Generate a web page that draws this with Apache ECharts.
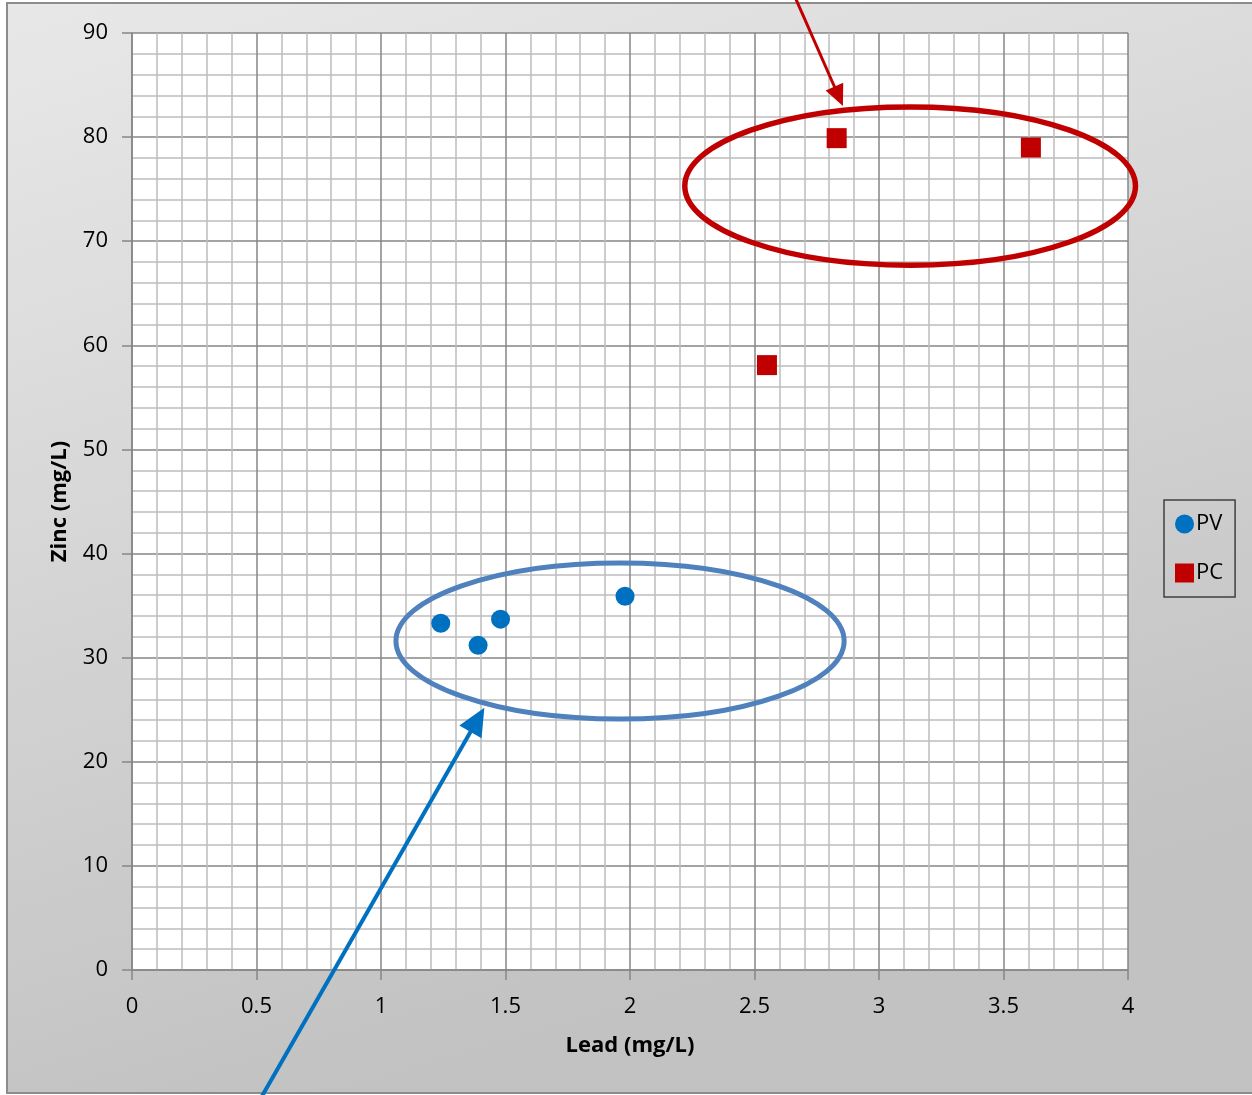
<!DOCTYPE html>
<html>
<head>
<meta charset="utf-8">
<title>Zinc vs Lead</title>
<script src="https://cdn.jsdelivr.net/npm/echarts@6/dist/echarts.min.js"></script>
<style>
  html, body { margin: 0; padding: 0; background: #ffffff; }
  #chart { width: 1252px; height: 1095px; }
</style>
</head>
<body>
<div id="chart"></div>
<script>
// Lead (x) and zinc (y) concentrations, mg/L
const leadPV = [1.24, 1.39, 1.48, 1.98];
const zincPV = [33.3, 31.2, 33.7, 35.9];
const leadPC = [2.83, 3.61, 2.55];
const zincPC = [79.9, 79.0, 58.1];

const seriesNames = ['PV', 'PC'];
const xTitle = 'Lead (mg/L)';
const yTitle = 'Zinc (mg/L)';

// Cluster rings (centre and half-axes in data units) and their pointer arrows
const rings = [
  { cx: 3.125, cy: 75.3, rx: 0.905, ry: 7.6, color: '#c00000', width: 5.5 },
  { cx: 1.96, cy: 31.6, rx: 0.9, ry: 7.5, color: '#4f81bd', width: 5 }
];
const pointers = [
  { from: [2.66, 93.6], to: [2.855, 83.0], color: '#c00000', width: 3 },
  { from: [0.52, -12.2], to: [1.415, 25.2], color: '#0070c0', width: 4 }
];

const FONT = '"Open Sans", sans-serif';

const toPairs = (xs, ys) => xs.map((x, i) => [x, ys[i]]);

const chart = echarts.init(document.getElementById('chart'));

const option = {
  animation: false,
  backgroundColor: '#ffffff',
  textStyle: { fontFamily: FONT },
  grid: {
    left: 132, right: 124, top: 33, bottom: 125,
    show: true, backgroundColor: '#ffffff', borderWidth: 0
  },
  legend: {
    orient: 'vertical',
    left: 1164, top: 500,
    padding: [12, 12, 12, 11],
    itemGap: 25,
    itemWidth: 19, itemHeight: 19,
    borderColor: '#404040', borderWidth: 1.5,
    textStyle: { fontSize: 22, lineHeight: 24, color: '#000', fontFamily: FONT, padding: [0, 0, 0, -3] },
    data: [
      { name: seriesNames[0], icon: 'circle' },
      { name: seriesNames[1], icon: 'rect' }
    ]
  },
  xAxis: {
    type: 'value', min: 0, max: 4, interval: 0.5,
    name: xTitle, nameLocation: 'middle', nameGap: 65,
    nameTextStyle: { fontSize: 22, fontWeight: 'bold', color: '#000', fontFamily: FONT },
    axisLine: { onZero: false, lineStyle: { color: '#868686', width: 1.5 } },
    axisTick: { show: true, length: 10, lineStyle: { color: '#868686', width: 1.5 } },
    axisLabel: { fontSize: 22, color: '#000', margin: 26, fontFamily: FONT },
    splitLine: { show: true, lineStyle: { color: '#868686', width: 1.5 } },
    minorTick: { show: false, splitNumber: 5 },
    minorSplitLine: { show: true, lineStyle: { color: '#bdbdbd', width: 1.5 } }
  },
  yAxis: {
    type: 'value', min: 0, max: 90, interval: 10,
    name: yTitle, nameLocation: 'middle', nameGap: 61, nameRotate: 90,
    nameTextStyle: { fontSize: 22, fontWeight: 'bold', color: '#000', fontFamily: FONT },
    axisLine: { show: true, onZero: false, lineStyle: { color: '#868686', width: 1.5 } },
    axisTick: { show: true, length: 10, lineStyle: { color: '#868686', width: 1.5 } },
    axisLabel: { fontSize: 22, color: '#000', margin: 24, fontFamily: FONT },
    splitLine: { show: true, lineStyle: { color: '#868686', width: 1.5 } },
    minorTick: { show: false, splitNumber: 5 },
    minorSplitLine: { show: true, lineStyle: { color: '#bdbdbd', width: 1.5 } }
  },
  series: [
    {
      name: seriesNames[1], type: 'scatter', z: 3,
      symbol: 'rect', symbolSize: 20,
      itemStyle: { color: '#c00000', opacity: 1 },
      data: toPairs(leadPC, zincPC)
    },
    {
      name: seriesNames[0], type: 'scatter', z: 4,
      symbol: 'circle', symbolSize: 19,
      itemStyle: { color: '#0070c0', opacity: 1 },
      data: toPairs(leadPV, zincPV)
    }
  ]
};

chart.setOption(option);

// Chart-area panel behind everything, then rings and arrows over the plot
function drawOverlays() {
  const px = (p) => chart.convertToPixel({ gridIndex: 0 }, p);
  const elements = [{
    type: 'rect', z: -10, silent: true,
    shape: { x: 7, y: 3, width: 1270, height: 1090 },
    style: {
      fill: new echarts.graphic.LinearGradient(0, 0, 0.25, 1, [
        { offset: 0, color: '#e8e8e8' },
        { offset: 1, color: '#c2c2c2' }
      ]),
      stroke: '#8c8c8c', lineWidth: 2
    }
  }];

  rings.forEach((r) => {
    const c = px([r.cx, r.cy]);
    const e = px([r.cx + r.rx, r.cy - r.ry]);
    elements.push({
      type: 'ellipse', z: 20, silent: true,
      shape: { cx: c[0], cy: c[1], rx: e[0] - c[0], ry: e[1] - c[1] },
      style: { fill: 'none', stroke: r.color, lineWidth: r.width }
    });
  });

  pointers.forEach((a) => {
    const p0 = px(a.from);
    const p1 = px(a.to);
    const dx = p1[0] - p0[0], dy = p1[1] - p0[1];
    const len = Math.hypot(dx, dy);
    const ux = dx / len, uy = dy / len;
    const headLen = a.width * 7, headHalf = a.width * 3.2;
    const bx = p1[0] - ux * headLen, by = p1[1] - uy * headLen;
    elements.push({
      type: 'line', z: 21, silent: true,
      shape: { x1: p0[0], y1: p0[1], x2: bx + ux * 2, y2: by + uy * 2 },
      style: { stroke: a.color, lineWidth: a.width }
    });
    elements.push({
      type: 'polygon', z: 21, silent: true,
      shape: { points: [
        [p1[0], p1[1]],
        [bx - uy * headHalf, by + ux * headHalf],
        [bx + uy * headHalf, by - ux * headHalf]
      ] },
      style: { fill: a.color }
    });
  });

  chart.setOption({ graphic: { elements } });
}

drawOverlays();
</script>
</body>
</html>
